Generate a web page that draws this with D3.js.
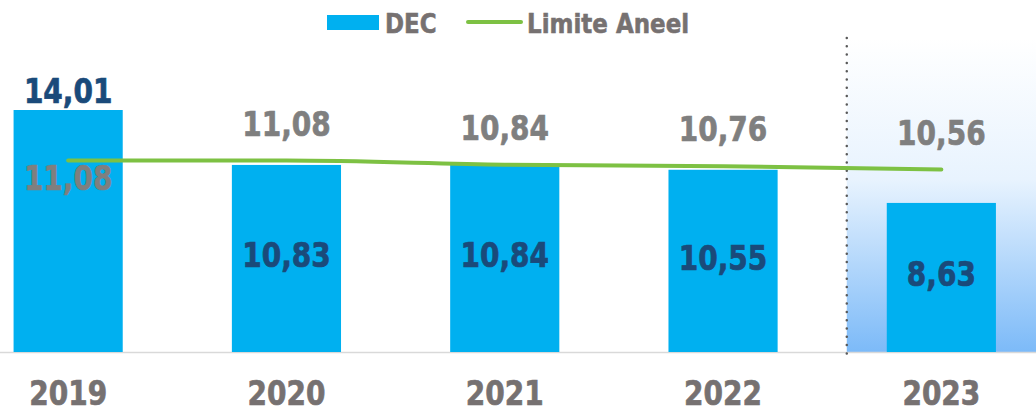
<!DOCTYPE html>
<html lang="pt">
<head>
<meta charset="utf-8">
<title>DEC x Limite Aneel</title>
<script src="https://cdn.jsdelivr.net/npm/d3@7"></script>
<style>
  body { margin: 0; background: #fff; }
  text { font-family: "DejaVu Sans", Verdana, sans-serif; font-weight: bold; }
</style>
</head>
<body>
<script>
// data
var years = ["2019", "2020", "2021", "2022", "2023"];
var dec = [14.01, 10.83, 10.84, 10.55, 8.63];
var limite = [11.08, 11.08, 10.84, 10.76, 10.56];

var width = 1036, height = 409;
var baseY = 352;
var stretch = 1.18; // reference font is taller than DejaVu
var fmt = function(v) { return d3.format(".2f")(v).replace(".", ","); };

var svg = d3.select("body").append("svg")
  .attr("width", width)
  .attr("height", height);

var x = d3.scaleBand()
  .domain(years)
  .range([-41, 1050.5])
  .paddingInner(0.5)
  .paddingOuter(0.25);

var y = d3.scaleLinear()
  .domain([0, 14.01])
  .range([baseY, 110]);

function place(px, py) {
  return "translate(" + px + "," + py + ") scale(1," + stretch + ")";
}

// gradient for the 2023 area
var defs = svg.append("defs");
var grad = defs.append("linearGradient")
  .attr("id", "bg23")
  .attr("x1", 0).attr("y1", 0).attr("x2", 0).attr("y2", 1);
grad.append("stop").attr("offset", "0%").attr("stop-color", "#ffffff");
grad.append("stop").attr("offset", "45%").attr("stop-color", "#e8f3fe");
grad.append("stop").attr("offset", "100%").attr("stop-color", "#7cbaf8");

var sepX = x("2023") - 40;
svg.append("rect")
  .attr("x", sepX)
  .attr("y", 38)
  .attr("width", width - sepX)
  .attr("height", baseY - 38)
  .attr("fill", "url(#bg23)");

// baseline
svg.append("line")
  .attr("x1", 0).attr("x2", width)
  .attr("y1", baseY + 0.5).attr("y2", baseY + 0.5)
  .attr("stroke", "#d9d9d9")
  .attr("stroke-width", 1.5);

// bars
svg.selectAll("rect.bar")
  .data(dec)
  .enter()
  .append("rect")
  .attr("class", "bar")
  .attr("x", function(d, i) { return x(years[i]); })
  .attr("y", function(d) { return y(d); })
  .attr("width", x.bandwidth())
  .attr("height", function(d) { return baseY - y(d); })
  .attr("fill", "#00b0f0");

// dotted separator
svg.append("line")
  .attr("x1", sepX).attr("x2", sepX)
  .attr("y1", 38).attr("y2", 355)
  .attr("stroke", "#595959")
  .attr("stroke-width", 2.5)
  .attr("stroke-linecap", "round")
  .attr("stroke-dasharray", "0 8.3");

// limit line
var line = d3.line()
  .x(function(d, i) { return x(years[i]) + x.bandwidth() / 2; })
  .y(function(d) { return y(d); })
  .curve(d3.curveMonotoneX);

svg.append("path")
  .datum(limite)
  .attr("d", line)
  .attr("fill", "none")
  .attr("stroke", "#7dc143")
  .attr("stroke-width", 4)
  .attr("stroke-linecap", "round");

// DEC labels
svg.selectAll("text.dec")
  .data(dec)
  .enter()
  .append("text")
  .attr("class", "dec")
  .attr("transform", function(d, i) {
    var cx = x(years[i]) + x.bandwidth() / 2;
    var cy = i === 0 ? y(d) - 7 : (y(d) + baseY) / 2 + 9;
    return place(cx, cy);
  })
  .attr("text-anchor", "middle")
  .attr("font-size", 28)
  .attr("fill", "#1a4a7a")
  .attr("stroke", "#1a4a7a")
  .attr("stroke-width", 0.6)
  .text(fmt);

// limit labels
svg.selectAll("text.lim")
  .data(limite)
  .enter()
  .append("text")
  .attr("class", "lim")
  .attr("transform", function(d, i) {
    var cx = x(years[i]) + x.bandwidth() / 2;
    var cy = i === 0 ? y(d) + 29 : y(d) - 25;
    return place(cx, cy);
  })
  .attr("text-anchor", "middle")
  .attr("font-size", 28)
  .attr("fill", "#7f7f7f")
  .attr("stroke", "#7f7f7f")
  .attr("stroke-width", 0.6)
  .text(fmt);

// year labels
svg.selectAll("text.year")
  .data(years)
  .enter()
  .append("text")
  .attr("class", "year")
  .attr("transform", function(d) { return place(x(d) + x.bandwidth() / 2, 405); })
  .attr("text-anchor", "middle")
  .attr("font-size", 28)
  .attr("fill", "#767171")
  .attr("stroke", "#767171")
  .attr("stroke-width", 0.6)
  .text(function(d) { return d; });

// legend
var legend = svg.append("g");
legend.append("rect")
  .attr("x", 327).attr("y", 15)
  .attr("width", 52).attr("height", 15)
  .attr("fill", "#00b0f0");
legend.append("text")
  .attr("transform", place(385, 32.5))
  .attr("font-size", 23)
  .attr("fill", "#767171")
  .attr("stroke", "#767171")
  .attr("stroke-width", 0.5)
  .text("DEC");
legend.append("line")
  .attr("x1", 468).attr("x2", 521)
  .attr("y1", 22).attr("y2", 22)
  .attr("stroke", "#7dc143")
  .attr("stroke-width", 4)
  .attr("stroke-linecap", "round");
legend.append("text")
  .attr("transform", place(527, 32.5))
  .attr("font-size", 23)
  .attr("fill", "#767171")
  .attr("stroke", "#767171")
  .attr("stroke-width", 0.5)
  .text("Limite Aneel");
</script>
</body>
</html>
